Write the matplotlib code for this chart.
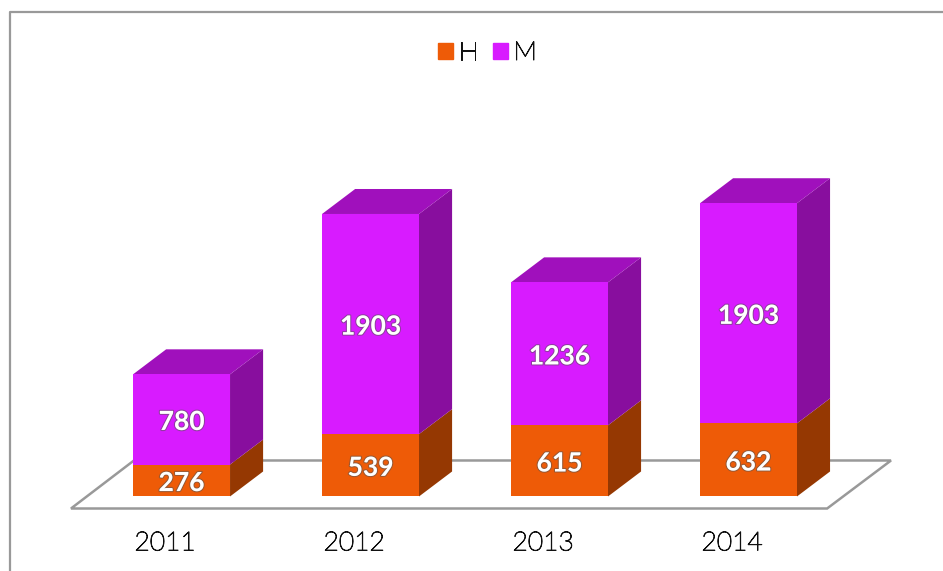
import numpy as np
from matplotlib import pyplot as plt
from matplotlib.lines import Line2D
from matplotlib.patches import Patch, Polygon
import matplotlib.patheffects as pe

plt.rcParams['font.family'] = ['Lato', 'DejaVu Sans']

years = ['2011', '2012', '2013', '2014']
h_values = np.array([276, 539, 615, 632])
m_values = np.array([780, 1903, 1236, 1903])

H_COLOR = '#EE5B07'
M_COLOR = '#D81BFF'
H_SIDE = '#953802'
M_SIDE = '#880E9E'
M_TOP = '#A010BC'
GRID = '#999999'

W, HT = 943, 571
bar_width = 0.513
depth_x = 0.175
depth_y = 216
label_drop = 22  # labels sit a little under the middle of each segment

# the installed light weight is a hairline, thicken it a bit
thin_dark = [pe.withStroke(linewidth=0.7, foreground='#111111')]


def add_box(ax, x, bottom, height, front, side, top=None):
    right = x + bar_width / 2
    left = x - bar_width / 2
    ax.bar(x, height, bar_width, bottom=bottom, color=front, zorder=4)
    ax.add_patch(Polygon([(right, bottom), (right + depth_x, bottom + depth_y),
                          (right + depth_x, bottom + height + depth_y), (right, bottom + height)],
                         closed=True, facecolor=side, edgecolor='none', zorder=3))
    if top is not None:
        y = bottom + height
        ax.add_patch(Polygon([(left, y), (left + depth_x, y + depth_y),
                              (right + depth_x, y + depth_y), (right, y)],
                             closed=True, facecolor=top, edgecolor='none', zorder=3))


def add_value(ax, x, y, value):
    ax.text(x, y - label_drop, str(value), ha='center', va='center', color='white', fontsize=19,
            fontweight='bold', zorder=6,
            path_effects=[pe.withStroke(linewidth=1.6, foreground='#55555588')])


fig = plt.figure(figsize=(W / 100, HT / 100), dpi=100)
ax = fig.add_axes([71 / W, 1 - 508.5 / HT, (891 - 71) / W, (508.5 - 100.5) / HT])
ax.set_xlim(-0.585, 3.754)
ax.set_ylim(-104, 3423)

x = np.arange(len(years))

# floor of the 3d box
front_l, front_r = -0.585, 3.754 - 0.338
ax.add_patch(Polygon([(front_l, -104), (front_l + 0.333, 311), (3.754, 311), (front_r, -104)],
                     closed=True, facecolor='white', edgecolor=GRID, linewidth=1.8, zorder=1,
                     clip_on=False))

for i in x:
    add_box(ax, i, 0, h_values[i], H_COLOR, H_SIDE)
    add_box(ax, i, h_values[i], m_values[i], M_COLOR, M_SIDE, M_TOP)
    add_value(ax, i, h_values[i] / 2, h_values[i])
    add_value(ax, i, h_values[i] + m_values[i] / 2, m_values[i])

for s in ax.spines.values():
    s.set_visible(False)
ax.set_yticks([])
ax.set_xticks(x - 0.087, years, fontsize=19, color='#111111', fontweight='light')
ax.tick_params(axis='x', length=0, pad=16.5)
for t in ax.get_xticklabels():
    t.set_path_effects(thin_dark)

handles = [Patch(color=H_COLOR, label='H'), Patch(color=M_COLOR, label='M')]
leg = fig.legend(handles=handles, ncol=2, loc='center', bbox_to_anchor=(487.5 / W, 1 - 53 / HT),
                 frameon=False, prop={'size': 19, 'weight': 'light'}, handlelength=0.57, handleheight=0.57,
                 handletextpad=0.2, columnspacing=0.57, labelcolor='#111111')
for t in leg.get_texts():
    t.set_path_effects(thin_dark)

# outer frame of the slide chart
fig.add_artist(Line2D([10 / W, 10 / W, 1], [0, 1 - 12 / HT, 1 - 12 / HT], color=GRID, linewidth=1.6))

fig.savefig('out.png', dpi=100)
